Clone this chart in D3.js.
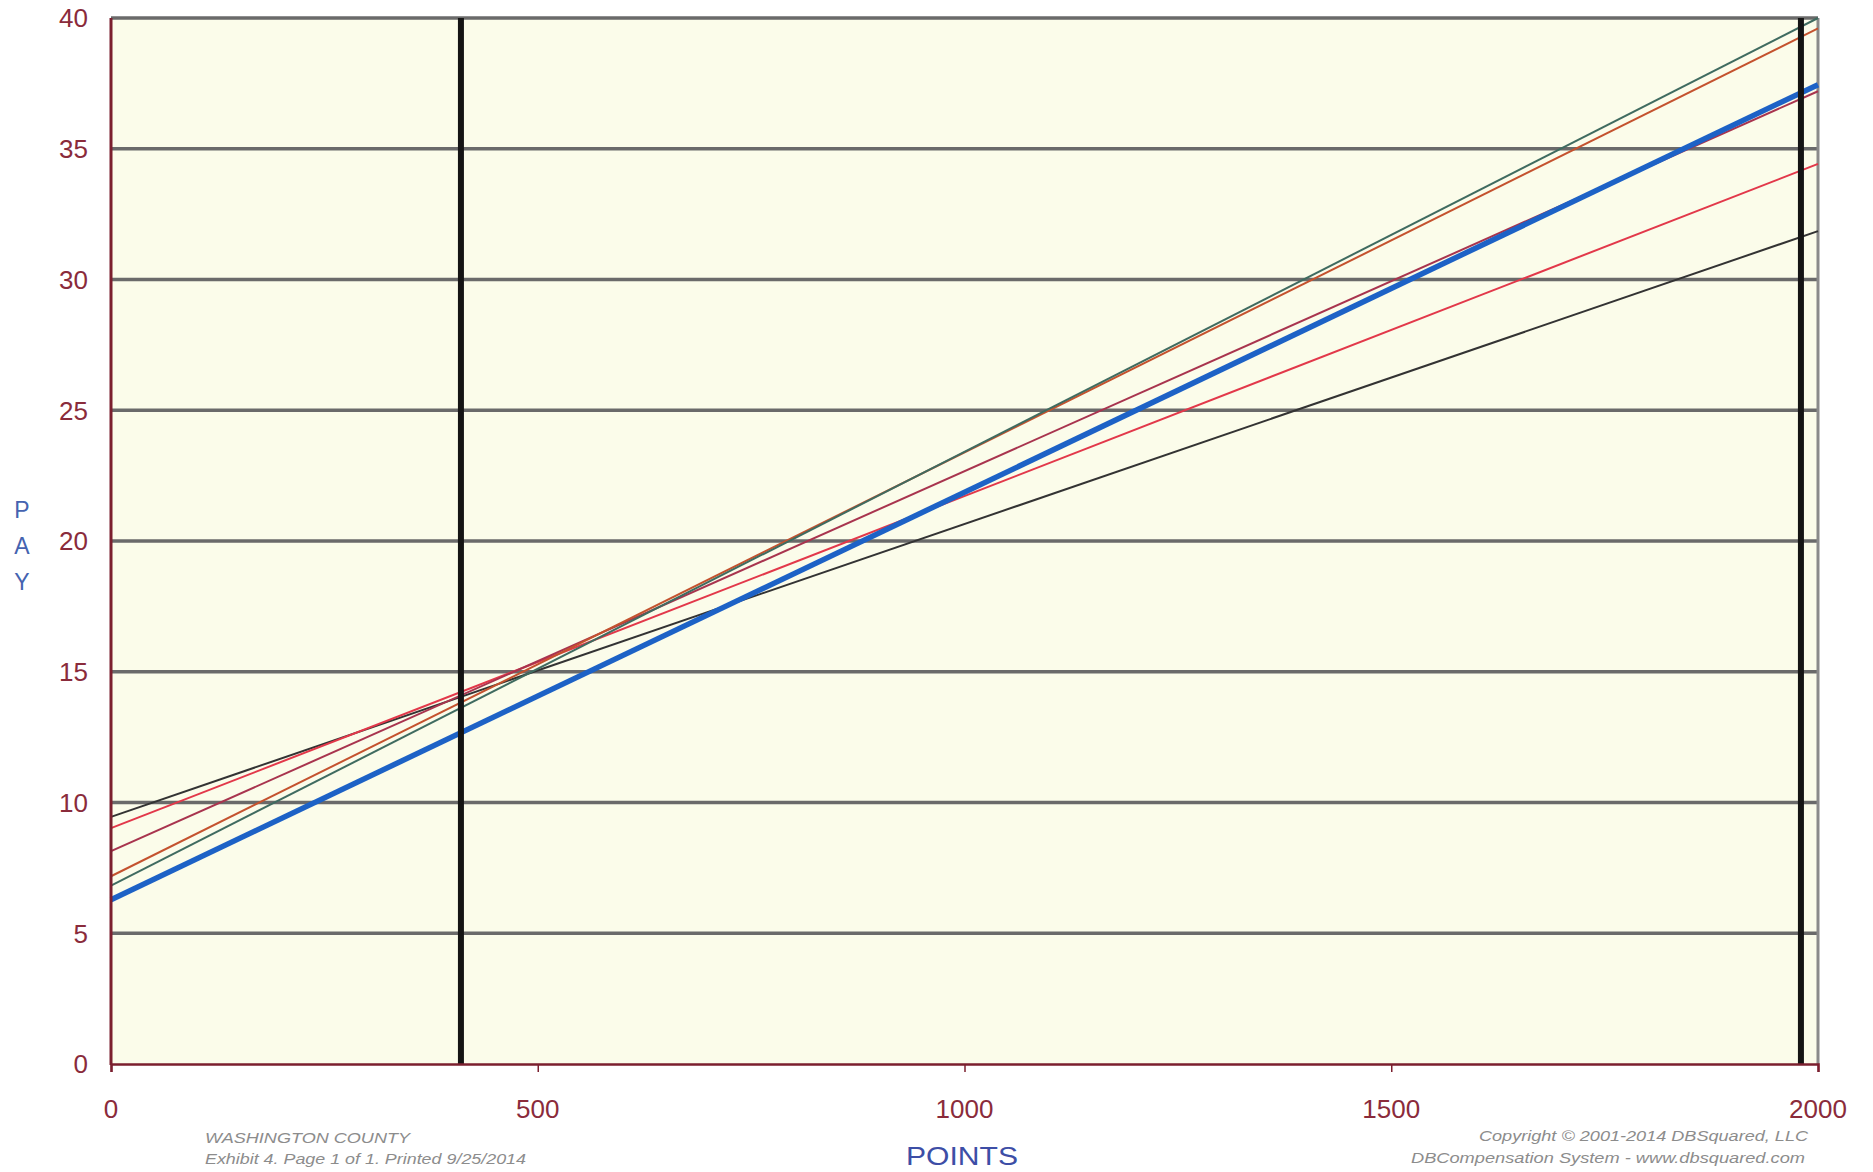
<!DOCTYPE html>
<html>
<head>
<meta charset="utf-8">
<script src="https://cdn.jsdelivr.net/npm/d3@7"></script>
<style>
  html, body { margin: 0; padding: 0; background: #ffffff; }
  svg { display: block; }
</style>
</head>
<body>
<svg id="chart" width="1873" height="1172"></svg>
<script>
// ---- data ----
const xDomainPoints = [0, 2000];
const xTicks = [0, 500, 1000, 1500, 2000];
const yTicks = [0, 5, 10, 15, 20, 25, 30, 35, 40];
const markerPoints = [410, 1980];

const seriesNames = ["black", "red", "crimson", "orange", "teal", "blue"];
const seriesBlack   = [9.45, 31.85];
const seriesRed     = [9.02, 34.42];
const seriesCrimson = [8.14, 37.2];
const seriesOrange  = [7.18, 39.6];
const seriesTeal    = [6.82, 40.0];
const seriesBlue    = [6.28, 37.45];

const footerLeft = ["WASHINGTON COUNTY", "Exhibit 4. Page 1 of 1. Printed 9/25/2014"];
const footerRight = ["Copyright \u00A9 2001-2014 DBSquared, LLC", "DBCompensation System - www.dbsquared.com"];

// ---- layout ----
const svg = d3.select("#chart");
const L = 111, R = 1818, T = 18, B = 1064;
const x = d3.scaleLinear().domain([0, 2000]).range([L, R]);
const y = d3.scaleLinear().domain([0, 40]).range([B, T]);
const font = "'Liberation Sans', Arial, sans-serif";

// plot background
svg.append("rect").attr("x", L).attr("y", T).attr("width", R - L).attr("height", B - T)
  .attr("fill", "#fbfcea");

// horizontal grid
svg.append("g").selectAll("line").data(yTicks.filter(d => d > 0)).join("line")
  .attr("x1", L).attr("x2", R).attr("y1", d => y(d)).attr("y2", d => y(d))
  .attr("stroke", "#6a6a6a").attr("stroke-width", 3.4);

// right border
svg.append("line").attr("x1", R).attr("x2", R).attr("y1", T).attr("y2", B)
  .attr("stroke", "#8a8a8a").attr("stroke-width", 3);

// series lines
const series = [
  {name: "black",   vals: seriesBlack,   color: "#333333", w: 2},
  {name: "red",     vals: seriesRed,     color: "#e2384a", w: 2},
  {name: "crimson", vals: seriesCrimson, color: "#a8344e", w: 2},
  {name: "orange",  vals: seriesOrange,  color: "#c4522e", w: 2},
  {name: "teal",    vals: seriesTeal,    color: "#3f6b60", w: 2},
  {name: "blue",    vals: seriesBlue,    color: "#1d62c6", w: 5.5}
];
const line = d3.line().x(d => x(d[0])).y(d => y(d[1]));
svg.append("g").selectAll("path").data(series).join("path")
  .attr("d", s => line(xDomainPoints.map((p, i) => [p, s.vals[i]])))
  .attr("fill", "none").attr("stroke", s => s.color).attr("stroke-width", s => s.w);

// vertical marker lines
svg.append("g").selectAll("line").data(markerPoints).join("line")
  .attr("x1", d => x(d)).attr("x2", d => x(d)).attr("y1", T).attr("y2", B)
  .attr("stroke", "#141414").attr("stroke-width", 6);

// axes (maroon)
const axisColor = "#7b1f2e";
const xAxis = svg.append("g").attr("transform", `translate(0,${B})`)
  .call(d3.axisBottom(x).tickValues(xTicks).tickSize(8).tickFormat(""));
xAxis.select(".domain").attr("stroke", axisColor).attr("stroke-width", 2.5);
xAxis.selectAll(".tick line").attr("stroke", axisColor).attr("stroke-width", 1.5);

svg.append("line").attr("x1", L).attr("x2", L).attr("y1", T).attr("y2", B + 1)
  .attr("stroke", axisColor).attr("stroke-width", 3);

// tick labels
svg.append("g").selectAll("text").data(yTicks).join("text")
  .attr("x", 88).attr("y", d => y(d)).attr("dy", "0.36em")
  .attr("text-anchor", "end").attr("font-family", font).attr("font-size", 26)
  .attr("fill", "#8a2b3b").text(d => d);

svg.append("g").selectAll("text").data(xTicks).join("text")
  .attr("x", d => x(d)).attr("y", 1118)
  .attr("text-anchor", "middle").attr("font-family", font).attr("font-size", 26)
  .attr("fill", "#8a2b3b").text(d => d);

// axis titles
svg.append("g").selectAll("text").data(["P", "A", "Y"]).join("text")
  .attr("x", 22).attr("y", (d, i) => 518 + i * 36)
  .attr("text-anchor", "middle").attr("font-family", font).attr("font-size", 23)
  .attr("fill", "#4563b0").text(d => d);

svg.append("text").attr("x", 962).attr("y", 1165).attr("text-anchor", "middle")
  .attr("font-family", font).attr("font-size", 26).attr("fill", "#3d4ea6")
  .attr("textLength", 112).attr("lengthAdjust", "spacingAndGlyphs").text("POINTS");

// footers
const leftLens = [205, 321];
svg.append("g").selectAll("text").data(footerLeft).join("text")
  .attr("x", 205).attr("y", (d, i) => 1143 + i * 21)
  .attr("font-family", font).attr("font-size", 15).attr("font-style", "italic")
  .attr("textLength", (d, i) => leftLens[i]).attr("lengthAdjust", "spacingAndGlyphs")
  .attr("fill", "#8c8c8c").text(d => d);

const rightStarts = [1479, 1411], rightLens = [329, 394];
svg.append("g").selectAll("text").data(footerRight).join("text")
  .attr("x", (d, i) => rightStarts[i]).attr("y", (d, i) => 1141 + i * 22)
  .attr("font-family", font).attr("font-size", 15).attr("font-style", "italic")
  .attr("textLength", (d, i) => rightLens[i]).attr("lengthAdjust", "spacingAndGlyphs")
  .attr("fill", "#8c8c8c").text(d => d);
</script>
</body>
</html>
